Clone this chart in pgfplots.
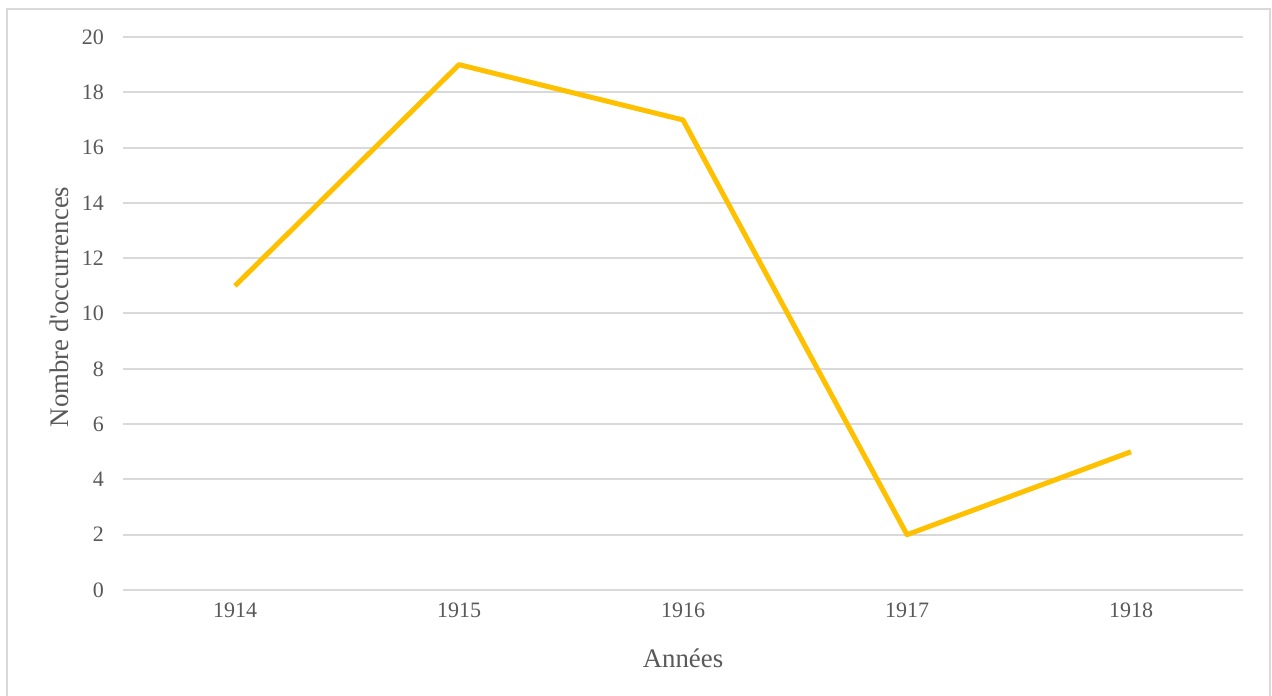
\documentclass[border=0pt]{standalone}
\usepackage{fontspec}
\setmainfont{Liberation Serif}
\usepackage{pgfplots}
\pgfplotsset{compat=1.18}
\definecolor{gold}{HTML}{FFC000}
\definecolor{txt}{HTML}{595959}
\definecolor{grd}{HTML}{D9D9D9}
\begin{document}
\begin{tikzpicture}
\useasboundingbox (0,0) rectangle (636pt,347.5pt);
\fill[white] (0,0) rectangle (636pt,347.5pt);
\draw[grd, line width=1pt] (3.5pt,-2pt) rectangle (635pt,343pt);
\begin{axis}[
  at={(61.5pt,52.5pt)}, anchor=south west,
  scale only axis, width=560pt, height=276.5pt,
  xmin=-0.5, xmax=4.5, ymin=0, ymax=20,
  xtick={0,1,2,3,4},
  xticklabels={1914,1915,1916,1917,1918},
  ytick={0,2,...,20},
  axis x line*=bottom,
  axis y line*=left,
  x axis line style={grd, line width=1pt, -},
  y axis line style={draw=none, -},
  ymajorgrids, grid style={grd, line width=1pt},
  major tick length=0pt,
  tick label style={font=\fontsize{11}{13}\selectfont, text=txt},
  /pgf/number format/assume math mode=true,
  xticklabel style={yshift=-3pt},
  yticklabel style={xshift=-6pt},
  clip=false,
]
\addplot[gold, line width=2.5pt, line join=round] coordinates {(0,11) (1,19) (2,17) (3,2) (4,5)};
\end{axis}
\node[rotate=90, text=txt, font=\fontsize{13.4}{15}\selectfont] at (29.5pt,194pt) {Nombre d\textquotesingle occurrences};
\node[text=txt, font=\fontsize{13.4}{15}\selectfont] at (341.5pt,18.5pt) {Années};
\end{tikzpicture}
\end{document}
